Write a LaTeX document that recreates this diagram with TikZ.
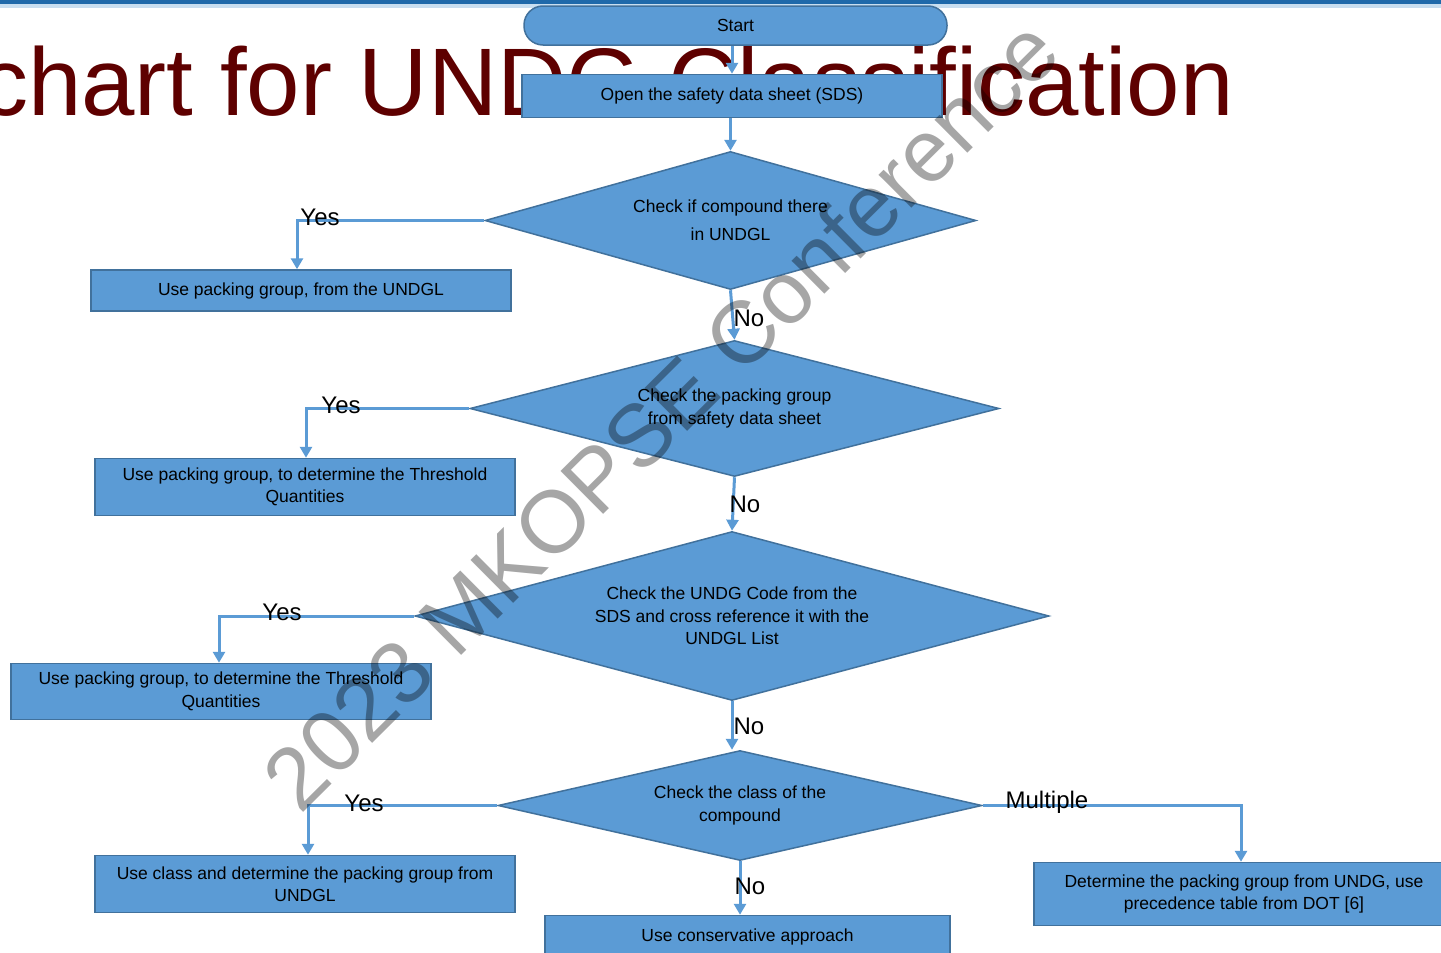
\documentclass[tikz,border=0pt]{standalone}
\usepackage{fontspec}
\setmainfont{Liberation Sans}
\usetikzlibrary{shapes.geometric,arrows.meta}

\definecolor{boxfill}{HTML}{5B9BD5}
\definecolor{boxline}{HTML}{41719C}
\definecolor{titlered}{RGB}{94,0,0}
\definecolor{barblue}{RGB}{31,105,170}
\definecolor{barglow}{RGB}{200,222,240}

\tikzset{
  flowbox/.style={draw=boxline, fill=boxfill, line width=1.5pt, inner sep=0pt,
    align=center, text=black, font=\fontsize{17.5}{22.5}\selectfont},
  decision/.style={diamond, draw=boxline, fill=boxfill, line width=1.5pt, inner sep=0pt,
    align=center, text=black, font=\fontsize{17.5}{22.5}\selectfont},
  link/.style={draw=boxfill, line width=3pt, -{Triangle[width=12pt,length=11pt]}},
  answer/.style={font=\fontsize{24}{28}\selectfont, anchor=base, inner sep=0pt, text=black},
}

\begin{document}
\begin{tikzpicture}[x=1pt,y=-1pt]
\useasboundingbox (0,0) rectangle (1441,953);
\clip (0,0) rectangle (1441,953);
\fill[white] (0,0) rectangle (1441,953);

% slide header strip
\fill[barglow] (0,3) rectangle (1441,8);
\fill[barblue] (0,0) rectangle (1441,4);

% slide title, partly hidden behind the flowchart
\node[anchor=base east, inner sep=0pt, text=titlered,
      font=\fontsize{96}{100}\selectfont] (title) at (1234,115)
      {chart for UNDG Classification};

% process boxes
\node[flowbox, rounded corners=19pt, minimum width=423pt, minimum height=39pt]
  (start) at (735.5,25.5) {Start};
\node[flowbox, minimum width=420pt, minimum height=43pt]
  (open) at (732,96) {Open the safety data sheet (SDS)};

% decisions
\node[decision, shape aspect=3.56, minimum width=491pt, minimum height=138pt,
      font=\fontsize{17.5}{28}\selectfont]
  (d1) at (730.5,220.5) {Check if compound there\\in UNDGL};
\node[decision, shape aspect=3.89, minimum width=529pt, minimum height=136pt]
  (d2) at (734.5,408.5) {Check the packing group\\from safety data sheet};
\node[decision, shape aspect=3.75, minimum width=634pt, minimum height=169pt]
  (d3) at (732,616) {Check the UNDG Code from the\\SDS and cross reference it with the\\UNDGL List};
\node[decision, shape aspect=4.4, minimum width=484pt, minimum height=110pt]
  (d4) at (740,805.5) {Check the class of the\\compound};

% outcome boxes
\node[flowbox, minimum width=420pt, minimum height=41pt]
  (b1) at (301,290.5) {Use packing group, from the UNDGL};
\node[flowbox, minimum width=420pt, minimum height=57pt]
  (b2) at (305,487) {Use packing group, to determine the Threshold\\Quantities};
\node[flowbox, minimum width=420pt, minimum height=56pt]
  (b3) at (221,691.5) {Use packing group, to determine the Threshold\\Quantities};
\node[flowbox, minimum width=420pt, minimum height=57pt]
  (b4) at (305,884) {Use class and determine the packing group from\\UNDGL};
\node[flowbox, minimum width=405pt, minimum height=43pt]
  (b5) at (747.5,937) {Use conservative approach};
\node[flowbox, minimum width=420pt, minimum height=63pt]
  (b6) at (1244,894) {Determine the packing group from UNDG, use\\precedence table from DOT [6]};

% main line
\draw[link] (open.north |- start.south) -- (open.north);
\draw[link] (d1.north |- open.south) -- (d1.north);
\draw[link] (d1.south) -- (d2.north);
\draw[link] (d2.south) -- (d3.north);
\draw[link] (d3.south) -- (d4.north -| d3.south);
\draw[link] (d4.south) -- (d4.south |- b5.north);

% side branches
\draw[link] (d1.west) -| ([xshift=-4pt]b1.north);
\draw[link] (d2.west) -| ([xshift=1pt]b2.north);
\draw[link] (d3.west) -| ([xshift=-2pt]b3.north);
\draw[link] (d4.west) -| ([xshift=3pt]b4.north);
\draw[link] (d4.east) -| ([xshift=-3pt]b6.north);

% branch labels
\node[answer] (yes1) at (320,225.5) {Yes};
\node[answer] (no1) at (749,326.5) {No};
\node[answer] (yes2) at (341,413.5) {Yes};
\node[answer] (no2) at (745,512.5) {No};
\node[answer] (yes3) at (282,620.5) {Yes};
\node[answer] (no3) at (749,734.5) {No};
\node[answer] (yes4) at (364,811.5) {Yes};
\node[answer] (no4) at (750,894.5) {No};
\node[answer] (multi) at (1047,808.5) {Multiple};

% conference watermark
\node[rotate=44.8, inner sep=0pt, text=black, text opacity=0.35,
      font=\fontsize{88}{92}\selectfont] (mark) at (660,414)
      {2023 MKOPSE Conference};
\end{tikzpicture}
\end{document}
